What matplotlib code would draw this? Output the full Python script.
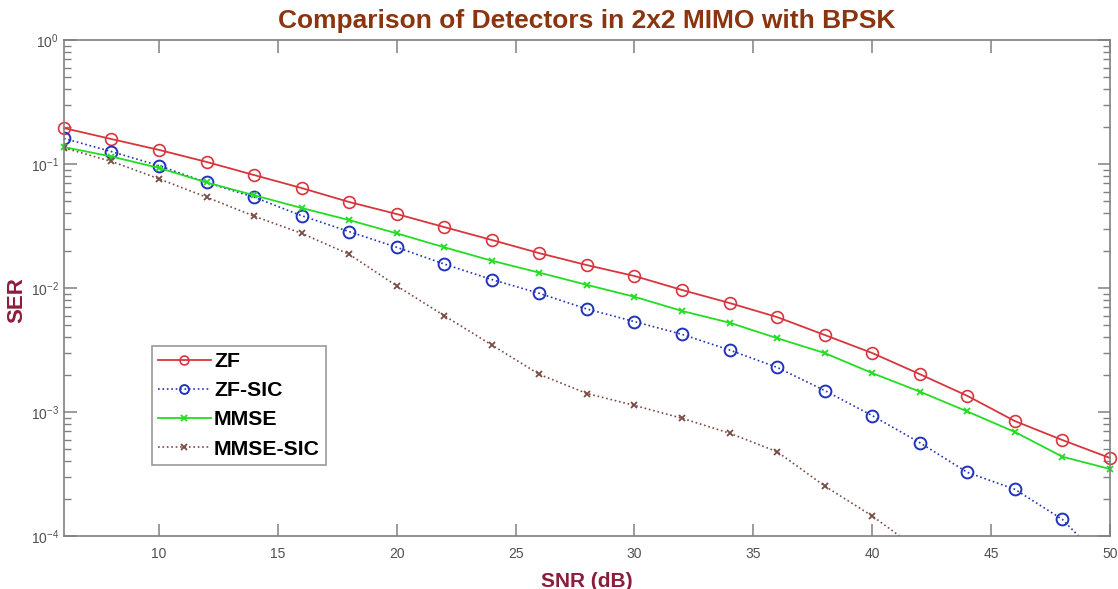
import numpy as np
import matplotlib
matplotlib.use("Agg")
import matplotlib.pyplot as plt
from matplotlib.ticker import LogLocator, NullFormatter

plt.rcParams['font.family'] = ['Liberation Sans', 'DejaVu Sans']
plt.rcParams['mathtext.fontset'] = 'custom'
plt.rcParams['mathtext.rm'] = 'Liberation Sans'

# SNR points (dB)
snr = np.arange(6, 51, 2)

# SER values
ser_zf = [0.195, 0.159, 0.130, 0.104, 0.0815, 0.064, 0.0494, 0.0395, 0.031, 0.0244,
          0.0191, 0.0153, 0.0125, 0.00964, 0.00757, 0.00583, 0.00418, 0.00299,
          0.00202, 0.00135, 0.000845, 0.000594, 0.000426]
ser_zf_sic = [0.161, 0.126, 0.097, 0.071, 0.054, 0.0383, 0.0285, 0.0213, 0.0156, 0.0117,
              0.00906, 0.00677, 0.00536, 0.00423, 0.00316, 0.00229, 0.00149, 0.000935,
              0.000566, 0.000326, 0.000238, 0.000136, 0.000055]
ser_mmse = [0.137, 0.115, 0.093, 0.071, 0.056, 0.0442, 0.0353, 0.0276, 0.0213, 0.0166,
            0.0133, 0.0106, 0.0085, 0.00653, 0.00525, 0.00394, 0.00299, 0.00206,
            0.00146, 0.00101, 0.00069, 0.000436, 0.000347]
ser_mmse_sic = [0.135, 0.105, 0.076, 0.054, 0.038, 0.0276, 0.0187, 0.0104, 0.00598, 0.00347,
                0.00201, 0.00141, 0.00113, 0.00089, 0.000675, 0.000478, 0.000253, 0.000145,
                0.000076, 0.00004, 0.00002, 0.00001, 0.000006]

fig = plt.figure(figsize=(11.18, 5.89), dpi=100)
ax = fig.add_axes([0.0572, 0.09, 0.9356, 0.842])

# curves that stay inside the axes are drawn unclipped so the end markers show whole
ax.semilogy(snr, ser_zf, '-o', color='#d8353d', lw=1.3, ms=8.5, mfc='none', mew=1.2,
            label='ZF', clip_on=False)
ax.semilogy(snr, ser_zf_sic, ':o', color='#2233bb', lw=1.2, ms=8.5, mfc='none', mew=1.4,
            label='ZF-SIC')
ax.semilogy(snr, ser_mmse, '-x', color='#22dd22', lw=1.3, ms=5, mew=1.3,
            label='MMSE', clip_on=False)
ax.semilogy(snr, ser_mmse_sic, ':x', color='#7a4c44', lw=1.2, ms=5, mew=1.3,
            label='MMSE-SIC')

ax.set_xlim(6, 50)
ax.set_ylim(1e-4, 1)
ax.set_xticks(range(10, 51, 5))
ax.yaxis.set_major_locator(LogLocator(base=10, numticks=10))
ax.yaxis.set_minor_locator(LogLocator(base=10, subs=np.arange(2, 10), numticks=20))
ax.yaxis.set_minor_formatter(NullFormatter())

for s in ax.spines.values():
    s.set_color('#808080')
    s.set_linewidth(1.2)
ax.tick_params(which='both', direction='in', top=True, right=True, colors='#808080',
               labelcolor='#505050', labelsize=10)
ax.tick_params(which='major', length=9, width=1.1)
ax.tick_params(which='minor', length=5, width=1.0)
ax.tick_params(axis='x', pad=8)

ax.set_title('Comparison of Detectors in 2x2 MIMO with BPSK', fontsize=19, fontweight='bold',
             color='#8b3510', pad=9)
ax.set_xlabel('SNR (dB)', fontsize=15, fontweight='bold', color='#8b1d3c', labelpad=8)
ax.set_ylabel('SER', fontsize=16, fontweight='bold', color='#8b1d3c')
ax.yaxis.set_label_coords(-0.035, 0.476)

leg = ax.legend(loc='upper left', bbox_to_anchor=(0.084, 0.383), fontsize=15.3, frameon=True,
                fancybox=False, edgecolor='#808080', borderpad=0.28, labelspacing=0.48,
                handlelength=2.5, handletextpad=0.15, borderaxespad=0, markerscale=0.75)
leg.get_frame().set_linewidth(1.2)
for t in leg.get_texts():
    t.set_fontweight('bold')

fig.savefig('out.png', dpi=100)
